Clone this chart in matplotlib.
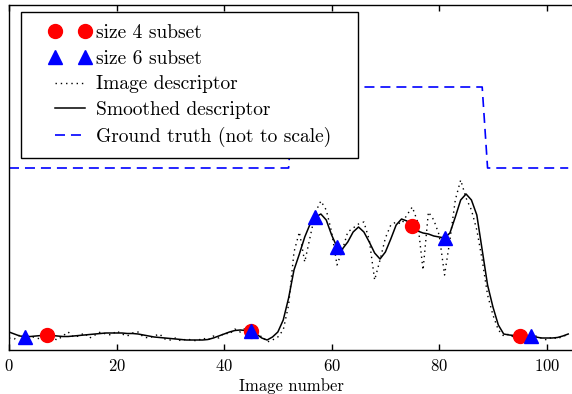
import matplotlib
matplotlib.use("Agg")
import matplotlib.pyplot as plt
from matplotlib.lines import Line2D
from matplotlib.patches import Rectangle
import numpy as np

plt.rcParams['font.family'] = 'serif'
plt.rcParams['font.serif'] = ['cmr10']
plt.rcParams['mathtext.fontset'] = 'cm'
plt.rcParams['axes.formatter.use_mathtext'] = True
plt.rcParams['lines.scale_dashes'] = False

# ---- data ----
image_number = list(range(105))

image_descriptor = [
    12, 11, 15, 12, 14, 12, 11, 16, 12, 10,
    14, 18, 13, 14, 17, 12, 15, 18, 16, 15,
    19, 16, 14, 17, 18, 13, 12, 14, 16, 11,
    10, 12, 9, 11, 10, 9, 12, 10, 14, 12,
    17, 16, 21, 18, 22, 17, 12, 14, 8, 10,
    13, 20, 45, 98, 118, 88, 113, 138, 149, 140,
    118, 85, 100, 118, 122, 126, 128, 110, 70, 90,
    112, 125, 128, 126, 135, 143, 128, 80, 138, 130,
    115, 75, 110, 150, 170, 152, 140, 120, 90, 55,
    35, 20, 14, 16, 12, 15, 13, 11, 14, 12,
    10, 13, 11, 14, 15,
]

smoothed_descriptor = [
    18, 16, 14, 13.5, 13.5, 14, 14.5, 15, 14.5, 14,
    13.5, 13.5, 14, 14.5, 15, 15.5, 16, 16.5, 17, 17,
    17, 17, 16.5, 16.5, 16, 15, 14, 13, 12.5, 12,
    11.5, 11, 10.5, 10, 10, 10, 10, 10.5, 12, 14,
    16, 18, 19.5, 20, 19.5, 19, 16, 12, 10, 13,
    18, 30, 52, 80, 96, 113, 126, 133, 136, 130,
    115, 103, 101, 108, 118, 123, 118, 108, 97, 91,
    98, 111, 125, 131, 129, 124, 119, 117, 116, 114,
    113, 112, 117, 133, 150, 156, 150, 135, 100, 65,
    43, 25, 16, 15, 14.5, 14.5, 14, 14, 13, 12,
    12, 12, 12.5, 14, 16,
]

ground_truth = [182] * 53 + [263] * 36 + [182] * 16

size4_subset = [7, 45, 75, 95]
size6_subset = [3, 45, 57, 61, 81, 97]

# ---- figure ----
fig = plt.figure(figsize=(5.72, 3.94), dpi=100)
W, H = 572.0, 394.0
ax_left, ax_right, ax_top, ax_bottom = 9.0, 573.6, 5.0, 350.0
ax = fig.add_axes([ax_left / W, 1 - ax_bottom / H,
                   (ax_right - ax_left) / W, (ax_bottom - ax_top) / H])

l_gt, = ax.plot(image_number, ground_truth, color='b', lw=1.2,
                linestyle=(0, (7.2, 4.3)), zorder=2)
l_raw, = ax.plot(image_number, image_descriptor, color='k', lw=1.0,
                 linestyle=(0, (1, 2.8)), zorder=2)
l_sm, = ax.plot(image_number, smoothed_descriptor, color='k', lw=1.1, zorder=3)

s4_y = [smoothed_descriptor[i] for i in size4_subset]
s6_y = [smoothed_descriptor[i] for i in size6_subset]
l_s4, = ax.plot(size4_subset, s4_y, 'o', color='r', ms=10, mec='r',
                linestyle='none', zorder=4)
l_s6, = ax.plot(size6_subset, s6_y, '^', color='b', ms=10, mec='b',
                linestyle='none', zorder=5)

ax.set_xlim(0, 105)
ax.set_ylim(0, 345)
ax.set_yticks([])
ax.set_xticks([0, 20, 40, 60, 80, 100])
ax.tick_params(axis='x', direction='in', top=True, length=4, width=1,
               labelsize=12, pad=5.5)
for sp in ax.spines.values():
    sp.set_linewidth(1.0)
ax.set_xlabel('Image number', fontsize=12, labelpad=3)

# legend frame
def ax_x(px):
    return (px - ax_left) / (ax_right - ax_left)

def ax_y(py):
    return (ax_bottom - py) / (ax_bottom - ax_top)

rect = Rectangle((ax_x(21), ax_y(158)), ax_x(358) - ax_x(21), ax_y(12) - ax_y(158),
                 transform=ax.transAxes, facecolor='white', edgecolor='k',
                 lw=1.0, zorder=10)
ax.add_patch(rect)

leg = ax.legend([l_s4, l_s6, l_raw, l_sm, l_gt],
                ['size 4 subset', 'size 6 subset', 'Image descriptor',
                 'Smoothed descriptor', 'Ground truth (not to scale)'],
                loc='upper left', bbox_to_anchor=(ax_x(49), ax_y(24)),
                borderpad=0, borderaxespad=0, frameon=False, numpoints=2,
                fontsize=14, handlelength=2.15, handletextpad=0.27,
                labelspacing=0.4)
leg.set_zorder(11)

fig.savefig('out.png', dpi=100)
